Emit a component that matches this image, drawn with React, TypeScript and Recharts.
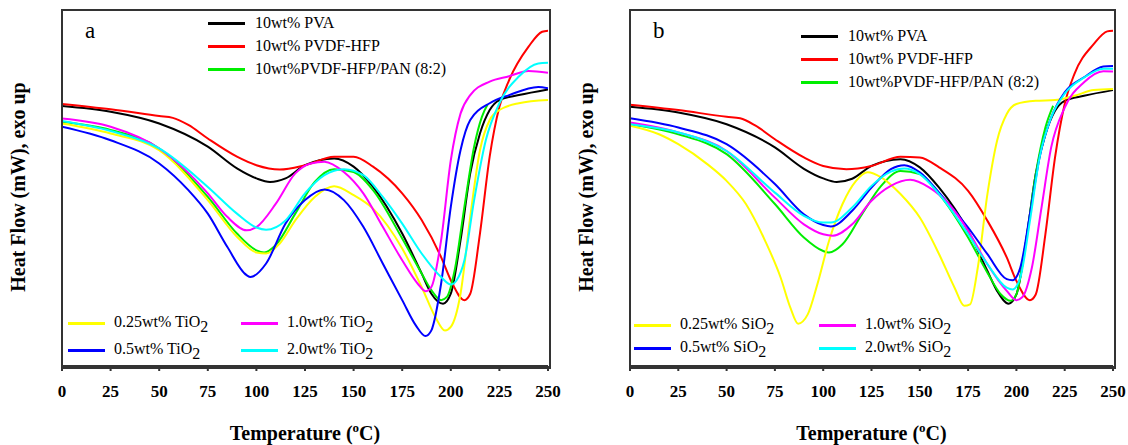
import React from 'react';
import { LineChart, Line, XAxis, YAxis } from 'recharts';

type Pt = [number, number];

const tempTicks = [0, 25, 50, 75, 100, 125, 150, 175, 200, 225, 250];

// panel a: TiO2 series (temperature, heat flow in arbitrary units, exo up)
const aPva: Pt[] = [[0,73.0],[25,71.4],[50,68.1],[75,61.6],[90,55.5],[100,52.7],[107,51.7],[115,52.7],[125,56.4],[140,58.3],[150,56.0],[160,50.3],[175,37.2],[185,26.0],[190,20.3],[196,17.5],[200,20.3],[205,35.3],[210,54.1],[215,65.3],[220,71.9],[225,74.7],[235,76.1],[250,77.7]];
const aPvdf: Pt[] = [[0,73.6],[25,72.1],[50,70.2],[57,69.7],[65,67.7],[75,63.9],[90,58.8],[100,56.4],[112,55.2],[125,56.4],[140,58.8],[150,58.8],[160,56.0],[175,48.5],[185,41.0],[195,30.6],[200,24.1],[207,18.5],[210,20.3],[215,37.2],[220,58.8],[225,72.8],[230,80.3],[240,89.7],[247,93.9],[250,94.2]];
const aPan: Pt[] = [[0,68.6],[25,66.3],[50,61.1],[75,47.5],[90,37.2],[100,32.5],[104,31.9],[110,34.0],[120,42.8],[130,51.7],[140,55.3],[150,54.5],[160,49.4],[175,35.8],[185,26.0],[190,21.3],[195,18.5],[198,19.4],[202,26.9],[207,44.7],[212,61.6],[216,70.0],[219,73.5]];
const aT025: Pt[] = [[0,68.1],[25,65.3],[50,60.6],[75,46.6],[90,36.3],[100,31.9],[105,31.6],[112,34.4],[120,40.9],[130,47.5],[140,50.5],[150,48.0],[160,44.2],[175,33.0],[185,22.2],[192,13.8],[197,10.0],[200,11.0],[205,20.3],[210,41.9],[215,60.6],[220,69.1],[225,71.9],[235,73.8],[250,74.7]];
const aT05: Pt[] = [[0,67.2],[25,63.4],[50,56.9],[65,49.4],[75,42.8],[85,33.5],[95,25.5],[97,25.0],[105,28.8],[115,40.0],[125,46.6],[135,49.6],[145,46.6],[155,39.1],[165,28.8],[175,18.5],[182,11.4],[187,8.4],[190,10.0],[195,23.1],[200,44.7],[205,60.6],[210,69.1],[220,73.8],[230,76.1],[245,78.4],[250,78.0]];
const aT10: Pt[] = [[0,69.5],[25,67.2],[50,61.1],[75,48.5],[85,41.9],[95,38.1],[100,39.0],[110,45.6],[120,54.1],[128,56.9],[135,57.4],[145,54.5],[155,48.5],[165,39.1],[175,29.7],[183,23.1],[187,21.0],[190,22.2],[195,35.3],[200,57.8],[205,70.9],[210,76.1],[220,79.9],[230,81.4],[240,82.9],[250,82.4]];
const aT20: Pt[] = [[0,68.8],[25,66.0],[50,61.1],[75,50.3],[90,42.8],[100,38.9],[105,38.3],[115,40.9],[125,48.5],[135,53.6],[145,55.3],[155,53.6],[165,47.5],[175,40.0],[185,31.6],[195,25.0],[200,22.9],[203,24.1],[207,29.7],[212,46.6],[218,63.4],[225,73.8],[235,81.3],[245,85.0],[250,85.2]];

// panel b: SiO2 series
const bPva: Pt[] = [[0,72.8],[25,71.2],[50,67.9],[75,61.4],[90,55.4],[100,52.7],[107,51.7],[115,52.6],[125,56.2],[140,58.1],[150,55.8],[160,50.1],[175,38.0],[185,26.7],[190,21.1],[196,17.5],[200,20.1],[205,35.1],[210,53.9],[215,65.1],[220,71.7],[225,74.5],[235,75.9],[250,77.5]];
const bPvdf: Pt[] = [[0,73.4],[25,71.9],[50,70.0],[57,69.6],[65,67.5],[75,63.7],[90,58.6],[100,56.2],[112,55.3],[125,56.2],[140,58.8],[150,58.6],[160,55.8],[175,49.2],[185,40.8],[195,30.5],[200,23.9],[207,18.5],[210,20.1],[215,37.0],[220,58.6],[225,73.6],[230,82.0],[240,90.4],[247,94.0],[250,94.2]];
const bPan: Pt[] = [[0,67.9],[25,65.1],[50,59.5],[75,45.5],[90,36.1],[100,32.3],[103,31.9],[110,34.2],[120,42.6],[130,50.6],[140,54.8],[150,53.9],[160,48.3],[175,36.1],[185,26.2],[192,20.1],[197,18.3],[200,20.1],[205,35.1],[210,53.9],[215,67.0],[219,73.1]];
const bS025: Pt[] = [[0,67.5],[15,65.1],[25,62.3],[40,56.7],[50,52.0],[60,45.5],[70,35.1],[78,24.8],[83,16.4],[87,11.9],[92,14.5],[97,23.0],[103,35.1],[110,45.5],[117,52.0],[123,54.4],[130,53.0],[140,48.3],[150,41.7],[160,31.4],[168,22.0],[173,16.9],[176,17.3],[180,27.6],[185,48.3],[190,63.3],[195,70.8],[200,73.6],[210,74.5],[220,74.7],[230,75.9],[240,77.5],[250,77.8]];
const bS05: Pt[] = [[0,69.6],[25,67.0],[50,62.3],[75,51.1],[90,42.6],[100,39.6],[104,39.2],[115,43.6],[125,50.1],[135,55.3],[142,56.4],[150,54.4],[160,48.7],[175,38.9],[185,31.4],[195,24.4],[198,24.1],[202,27.6],[207,42.6],[212,58.6],[218,69.8],[225,76.9],[235,81.1],[245,84.1],[250,84.3]];
const bS10: Pt[] = [[0,68.4],[25,65.6],[50,60.4],[75,47.3],[90,39.8],[100,37.0],[105,36.6],[115,39.8],[125,46.4],[135,50.6],[145,52.3],[155,50.1],[165,45.5],[175,38.0],[185,28.6],[195,21.1],[200,18.5],[203,19.3],[208,27.6],[213,44.5],[218,61.4],[225,72.6],[235,79.7],[245,82.8],[250,82.7]];
const bS20: Pt[] = [[0,67.9],[25,65.6],[50,60.4],[75,48.7],[90,42.2],[100,40.3],[104,40.3],[115,44.5],[125,50.6],[135,54.6],[142,55.5],[150,53.9],[160,48.3],[175,37.0],[185,28.6],[195,22.0],[198,21.5],[202,24.8],[207,40.8],[212,58.6],[218,69.8],[225,76.5],[235,81.0],[245,83.5],[250,83.5]];

const seriesColors = ['#000000', '#ff0000', '#00ee00', '#ffff00', '#0000ff', '#ff00ff', '#00ffff'];
const topNames = ['10wt% PVA', '10wt% PVDF-HFP', '10wt%PVDF-HFP/PAN (8:2)'];
const loadings = ['0.25wt%', '0.5wt%', '1.0wt%', '2.0wt%'];

const serif = '"Liberation Serif", "Times New Roman", serif';
const rows = (pts: Pt[]) => pts.map(([t, v]) => ({ t, v }));

interface PanelProps {
  left: number;
  plotLeft: number;
  plotRight: number;
  letter: string;
  oxide: string;
  series: Pt[][];
  topLegend: { x: number; y0: number };
  bottomLegend: { x1: number; x2: number; y1: number; y2: number };
}

const LegendLine = ({ x, y, color, w }: { x: number; y: number; color: string; w: number }) => (
  <div style={{ position: 'absolute', left: x, top: y - 1, width: w, height: 0, borderTop: `3px solid ${color}` }} />
);

const Panel: React.FC<PanelProps> = ({ left, plotLeft, plotRight, letter, oxide, series, topLegend, bottomLegend }) => {
  const W = 564;
  const H = 445;
  const plotTop = 10;
  const plotBottom = 366;
  const bl = bottomLegend;
  const bottomItems = [
    { x: bl.x1, y: bl.y1, c: seriesColors[3], l: loadings[0] },
    { x: bl.x1, y: bl.y2, c: seriesColors[4], l: loadings[1] },
    { x: bl.x2, y: bl.y1, c: seriesColors[5], l: loadings[2] },
    { x: bl.x2, y: bl.y2, c: seriesColors[6], l: loadings[3] },
  ];
  return (
    <div style={{ position: 'absolute', left, top: 0, width: W, height: H, fontFamily: serif }}>
      <LineChart width={W} height={H} margin={{ top: plotTop, left: plotLeft, right: W - plotRight, bottom: H - plotBottom - 30 }}>
        <XAxis
          xAxisId="x"
          dataKey="t"
          type="number"
          domain={[0, 250]}
          ticks={tempTicks}
          allowDataOverflow
          height={30}
          stroke="#333"
          strokeWidth={2}
          tickSize={5}
          tickMargin={14}
          tick={{ fill: '#000', fontSize: 17, fontWeight: 700, fontFamily: serif }}
        />
        <YAxis yAxisId="y" type="number" domain={[0, 100]} hide />
        {series.map((pts, i) => (
          <Line
            key={i}
            xAxisId="x"
            yAxisId="y"
            data={rows(pts)}
            dataKey="v"
            type="monotone"
            stroke={seriesColors[i]}
            strokeWidth={2}
            dot={false}
            isAnimationActive={false}
          />
        ))}
      </LineChart>

      {/* frame around the plot area */}
      <div
        style={{
          position: 'absolute',
          left: plotLeft - 1,
          top: plotTop - 1,
          width: plotRight - plotLeft,
          height: plotBottom - plotTop,
          border: '2px solid #333',
          pointerEvents: 'none',
        }}
      />

      <div style={{ position: 'absolute', left: plotLeft + 23, top: 18, fontSize: 23 }}>{letter}</div>

      {topNames.map((n, i) => (
        <React.Fragment key={n}>
          <LegendLine x={topLegend.x} y={topLegend.y0 + i * 23} color={seriesColors[i]} w={37} />
          <div style={{ position: 'absolute', left: topLegend.x + 47, top: topLegend.y0 + i * 23 - 10, fontSize: 16, lineHeight: '19px', whiteSpace: 'nowrap' }}>{n}</div>
        </React.Fragment>
      ))}

      {bottomItems.map((b) => (
        <React.Fragment key={b.l}>
          <LegendLine x={b.x} y={b.y} color={b.c} w={37} />
          <div style={{ position: 'absolute', left: b.x + 46, top: b.y - 11, fontSize: 16, lineHeight: '19px', whiteSpace: 'nowrap' }}>
            {b.l} {oxide}O<span style={{ position: 'relative', top: 5 }}>2</span>
          </div>
        </React.Fragment>
      ))}

      <div
        style={{
          position: 'absolute',
          left: plotLeft - 44 - 130,
          top: 187 - 12,
          width: 260,
          textAlign: 'center',
          transform: 'rotate(-90deg)',
          fontSize: 20,
          fontWeight: 700,
          lineHeight: '24px',
          whiteSpace: 'nowrap',
        }}
      >
        Heat Flow (mW), exo up
      </div>
      <div
        style={{
          position: 'absolute',
          left: (plotLeft + plotRight) / 2 - 150,
          top: 420,
          width: 300,
          textAlign: 'center',
          fontSize: 20,
          fontWeight: 700,
          whiteSpace: 'nowrap',
        }}
      >
        Temperature (<sup style={{ fontSize: 13 }}>o</sup>C)
      </div>
    </div>
  );
};

export default function App() {
  return (
    <div style={{ position: 'absolute', left: 0, top: 0, width: 1128, height: 445, background: '#fff' }}>
      <Panel
        left={0}
        plotLeft={62}
        plotRight={548}
        letter="a"
        oxide="Ti"
        series={[aPva, aPvdf, aPan, aT025, aT05, aT10, aT20]}
        topLegend={{ x: 208, y0: 23 }}
        bottomLegend={{ x1: 68, x2: 241, y1: 323, y2: 350 }}
      />
      <Panel
        left={564}
        plotLeft={66}
        plotRight={549}
        letter="b"
        oxide="Si"
        series={[bPva, bPvdf, bPan, bS025, bS05, bS10, bS20]}
        topLegend={{ x: 237, y0: 36 }}
        bottomLegend={{ x1: 70, x2: 255, y1: 325, y2: 348 }}
      />
    </div>
  );
}
